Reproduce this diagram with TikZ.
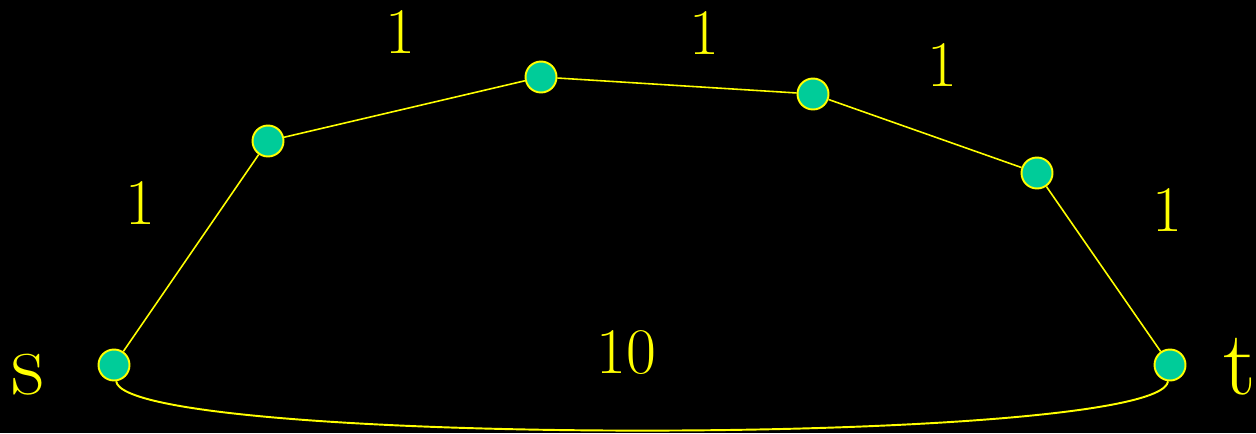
\documentclass[tikz,border=0pt]{standalone}
\definecolor{nodegreen}{RGB}{0,204,153}
\definecolor{edgeyellow}{RGB}{255,255,0}
\begin{document}
\begin{tikzpicture}[x=0.02cm,y=-0.02cm,
  vtx/.style={circle,fill=nodegreen,draw=edgeyellow,line width=1.1pt,minimum size=0.62cm,inner sep=0pt},
  edge/.style={draw=edgeyellow,line width=0.9pt},
  wlabel/.style={text=edgeyellow,font=\fontsize{37}{40}\selectfont,anchor=base,inner sep=0pt},
  stlabel/.style={text=edgeyellow,font=\fontsize{52}{56}\selectfont,anchor=base,inner sep=0pt}]
\fill[black] (0,0) rectangle (1256,433);
\useasboundingbox (0,0) rectangle (1256,433);
\node[vtx] (s) at (114,365) {};
\node[vtx] (a) at (268,141) {};
\node[vtx] (b) at (541,77) {};
\node[vtx] (c) at (813,94) {};
\node[vtx] (d) at (1037,173) {};
\node[vtx] (t) at (1170,365) {};
\draw[edge] (s) -- (a);
\draw[edge] (a) -- (b);
\draw[edge] (b) -- (c);
\draw[edge] (c) -- (d);
\draw[edge] (d) -- (t);
\draw[edge,line width=1.1pt] (s) .. controls (125,447) and (1160,447) .. (t);
\node[wlabel] (l1) at (140,224) {1};
\node[wlabel] (l2) at (400,53) {1};
\node[wlabel] (l3) at (704,54) {1};
\node[wlabel] (l4) at (942,86) {1};
\node[wlabel] (l5) at (1167,231) {1};
\node[wlabel] (l6) at (626,373) {10};
\node[stlabel] (ls) at (28,394) {s};
\node[stlabel] (lt) at (1240,394) {t};
\end{tikzpicture}
\end{document}
